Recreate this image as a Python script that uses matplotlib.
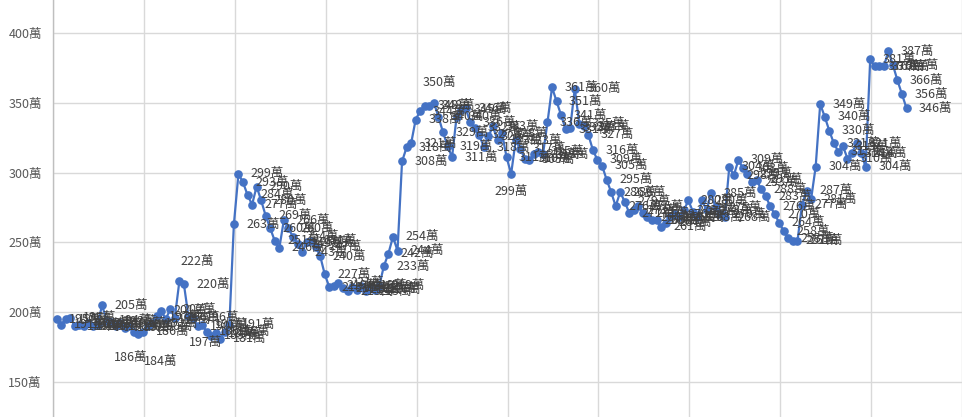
import numpy as np
import matplotlib
matplotlib.use("Agg")
import matplotlib.pyplot as plt

plt.rcParams['font.family'] = ['Noto Sans CJK TC', 'DejaVu Sans']

# price series (萬), one value per period
values = [
    195, 191, 195, 196, 190, 191, 190, 192, 190, 191,
    205, 194, 193, 190, 192, 189, 190, 186, 184, 186,
    190, 192, 197, 201, 195, 202, 196, 222, 220, 197,
    196, 190, 191, 186, 183, 185, 181, 186, 191, 263,
    299, 293, 284, 277, 290, 280, 269, 260, 251, 246,
    266, 260, 254, 249, 243, 250, 251, 247, 240, 227,
    218, 219, 221, 217, 215, 218, 216, 219, 215, 217,
    216, 219, 233, 242, 254, 244, 308, 318, 321, 338,
    344, 348, 348, 350, 340, 329, 319, 311, 340, 345,
    346, 336, 332, 327, 318, 326, 333, 323, 328, 311,
    299, 323, 317, 310, 309, 313, 315, 313, 336, 361,
    351, 341, 331, 332, 360, 335, 333, 327, 316, 309,
    305, 295, 286, 276, 286, 279, 271, 273, 276, 271,
    268, 266, 266, 261, 264, 268, 270, 268, 273, 280,
    272, 268, 280, 273, 285, 275, 270, 268, 304, 298,
    309, 303, 299, 293, 295, 288, 283, 276, 270, 264,
    258, 253, 251, 251, 277, 287, 281, 304, 349, 340,
    330, 321, 315, 319, 310, 314, 321, 314, 304, 381,
    376, 376, 376, 387, 377, 366, 356, 346,
]
n_categories = 200
y_ticks = [150, 200, 250, 300, 350, 400]
y_tick_labels = [f"{v}萬" for v in y_ticks]

fig = plt.figure(figsize=(9.68, 4.17), dpi=100)
ax = fig.add_axes([53 / 968, 0, (962 - 53) / 968, 1])

x = np.arange(len(values)) + 0.3
ax.plot(x, values, color='#4472C4', linewidth=1.6, marker='o',
        markersize=5.2, markerfacecolor='#4472C4', markeredgecolor='#4472C4',
        zorder=3)

# data labels (default: right of point)
special = {
    83: (4, 10, 'center', 'bottom'),
    27: (1, 10, 'left', 'bottom'),
    29: (0, -14, 'left', 'top'),
    100: (0, -8, 'center', 'top'),
    17: (-2, -14, 'center', 'top'),
    18: (4, -15, 'left', 'top'),
}
for i, (xi, v) in enumerate(zip(x, values)):
    dx, dy, ha, va = special.get(i, (9, 0, 'left', 'center'))
    ax.annotate(f"{v}萬", (xi, v), xytext=(dx, dy), textcoords='offset points',
                ha=ha, va=va, fontsize=9, color='#404040', zorder=4,
                annotation_clip=False)

ax.set_xlim(-0.5, n_categories - 0.5)
ax.set_ylim(124.9, 423.6)
ax.set_yticks(y_ticks)
ax.set_yticklabels(y_tick_labels, fontsize=9, color='#595959')
ax.set_xticks(np.arange(-0.5, n_categories, 20))
ax.set_xticklabels([])
ax.tick_params(axis='both', length=0, pad=8)
ax.grid(True, color='#D9D9D9', linewidth=1.0, zorder=0)
ax.set_axisbelow(True)
for s in ['top', 'right', 'bottom']:
    ax.spines[s].set_visible(False)
ax.spines['left'].set_color('#BFBFBF')
ax.spines['left'].set_linewidth(1.0)

fig.savefig('out.png', dpi=100)
